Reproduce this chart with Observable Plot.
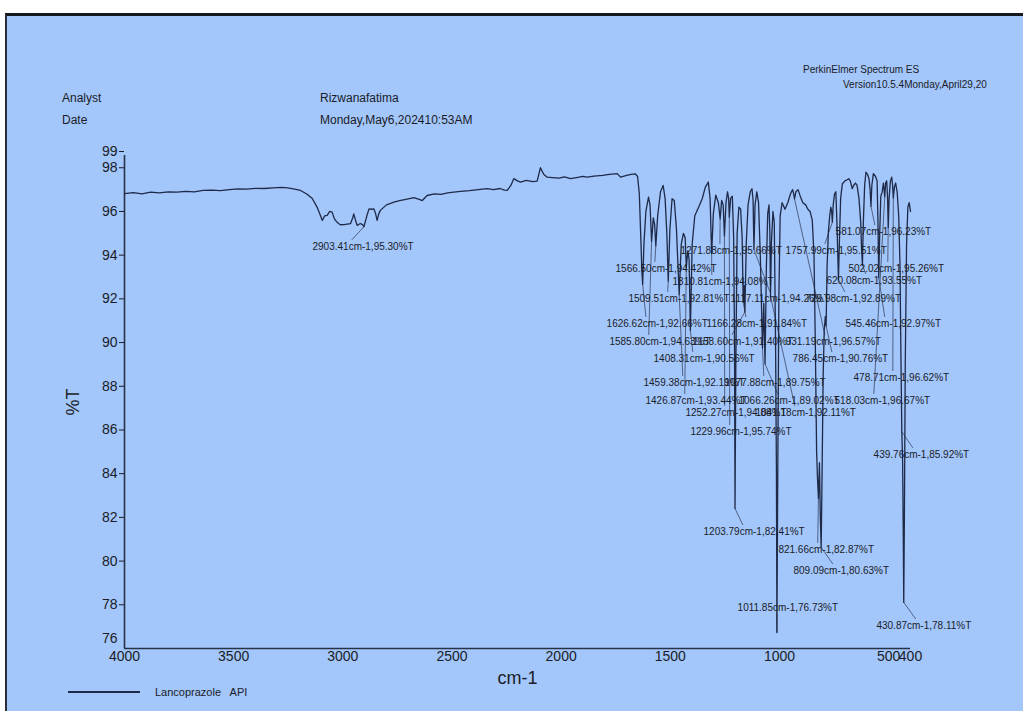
<!DOCTYPE html>
<html><head><meta charset="utf-8">
<script src="https://cdn.jsdelivr.net/npm/d3@7"></script>
<script src="https://cdn.jsdelivr.net/npm/@observablehq/plot@0.6"></script>
<style>
html,body{margin:0;padding:0;background:#fff;width:1023px;height:711px;overflow:hidden;font-family:"Liberation Sans",Arial,sans-serif;color:#1a1d28}
#panel{position:absolute;left:5px;top:13px;width:1030px;height:710px;background:#a3c6fb;border-top:3px solid #15181f;border-left:2px solid #2a2d35;box-sizing:border-box}
#chart{position:absolute;left:0;top:0}
.hdr{position:absolute;font-size:12px;white-space:nowrap;line-height:1}
.hdr.s{font-size:10px}
.leg{position:absolute;left:68px;top:691px;width:72px;border-top:2px solid #1e2a48}
.legt{position:absolute;left:155px;top:686px;font-size:11px;white-space:pre}
[aria-label="x-axis label"] text,[aria-label="y-axis label"] text{font-size:18px}
</style></head><body>
<div id="panel"></div>
<div id="chart"></div>
<div class="hdr" style="left:62px;top:92px">Analyst</div>
<div class="hdr" style="left:62px;top:114px">Date</div>
<div class="hdr" style="left:320px;top:92px">Rizwanafatima</div>
<div class="hdr" style="left:320px;top:114px">Monday,May6,202410:53AM</div>
<div class="hdr s" style="left:803px;top:65px">PerkinElmer Spectrum ES</div>
<div class="hdr s" style="left:843px;top:80px">Version10.5.4Monday,April29,20</div>
<div class="leg"></div>
<div class="legt">Lancoprazole   API</div>
<script>
// spectrum: [wavenumber cm-1, %T]
const spectrumPoints = [
[4000,96.82],[3960,96.86],[3920,96.80],[3880,96.88],[3840,96.85],[3800,96.90],[3760,96.88],[3720,96.92],
[3680,96.90],[3640,96.96],[3600,96.98],[3560,96.95],[3520,97.00],[3480,97.03],[3440,97.02],[3400,97.06],
[3360,97.05],[3320,97.08],[3280,97.10],[3253,97.08],[3220,97.02],[3194,96.96],[3165,96.80],[3140,96.59],
[3118,96.20],[3100,95.75],[3094,95.59],[3083,95.80],[3072,95.82],[3060,96.00],[3049,95.97],[3040,95.70],
[3034,95.59],[3020,95.45],[3011,95.39],[2995,95.40],[2980,95.42],[2965,95.44],[2955,95.70],[2950,95.89],
[2942,95.60],[2934,95.36],[2920,95.45],[2910,95.40],[2903.41,95.30],[2890,95.80],[2880,96.12],[2868,96.10],
[2858,96.12],[2850,95.90],[2843,95.59],[2835,95.90],[2827,96.06],[2800,96.30],[2766,96.43],[2740,96.50],
[2700,96.58],[2675,96.63],[2650,96.55],[2636,96.50],[2614,96.73],[2580,96.80],[2550,96.78],[2520,96.85],
[2492,96.88],[2460,96.92],[2420,96.95],[2380,97.00],[2339,97.04],[2310,97.00],[2280,97.05],[2260,96.98],
[2247,96.96],[2230,97.20],[2217,97.50],[2200,97.40],[2186,97.34],[2160,97.42],[2130,97.36],[2110,97.39],
[2095,98.00],[2080,97.70],[2064,97.57],[2040,97.55],[2010,97.52],[1985,97.58],[1957,97.50],[1930,97.55],
[1900,97.60],[1881,97.57],[1850,97.62],[1810,97.65],[1780,97.70],[1743,97.73],[1728,97.57],[1700,97.65],
[1680,97.70],[1660,97.72],[1650,97.60],[1642,96.80],[1636,95.00],[1630,93.20],[1626.62,92.66],[1621,94.50],
[1612,96.00],[1600,96.66],[1593,96.30],[1585.80,94.63],[1578,95.70],[1572,95.40],[1566.50,94.42],[1558,95.80],
[1545,96.90],[1533,97.19],[1524,96.60],[1516,95.00],[1509.51,92.81],[1502,95.20],[1492,96.58],[1482,96.50],
[1472,95.20],[1459.38,92.19],[1450,94.50],[1440,95.00],[1432,94.80],[1426.87,93.44],[1420,94.20],[1414,93.80],
[1408.31,90.56],[1400,94.50],[1388,95.80],[1370,96.20],[1354,96.58],[1340,97.10],[1326,97.34],[1318,96.60],
[1310.81,94.08],[1303,95.90],[1292,96.75],[1280,96.40],[1271.88,95.66],[1265,96.50],[1258,96.30],[1252.27,94.88],
[1245,96.40],[1238,96.90],[1233,96.60],[1229.96,95.74],[1224,96.60],[1216,96.70],[1210,94.80],[1206,90.00],
[1203.79,82.41],[1200,89.00],[1194,95.00],[1186,96.20],[1178,96.10],[1171,94.80],[1166.28,91.84],[1162,92.60],
[1158.60,91.40],[1152,94.60],[1144,96.30],[1134,96.90],[1126,97.04],[1121,96.50],[1117.11,94.26],[1112,96.30],
[1104,96.90],[1096,96.40],[1088,94.00],[1082,91.50],[1077.88,89.75],[1072,91.80],[1066.26,89.02],[1060,93.50],
[1054,95.90],[1048,96.30],[1044,95.00],[1041.18,92.11],[1037,94.60],[1030,96.00],[1024,95.50],[1018,90.00],
[1014,84.00],[1011.85,76.73],[1008,84.00],[1003,92.00],[997,95.80],[988,96.40],[975,96.10],[962,96.40],
[950,96.80],[940,97.00],[936,96.85],[931.19,96.57],[925,96.90],[915,97.00],[905,96.70],[893,96.40],
[880,96.30],[870,96.10],[860,96.00],[850,95.60],[842,94.00],[836,90.00],[830,85.00],[826,83.80],
[821.66,82.87],[817,84.50],[813,82.00],[809.09,80.63],[805,84.00],[800,88.50],[795,90.60],[790,91.20],
[786.45,90.76],[782,93.50],[776,95.10],[770,95.80],[765,96.20],[761,96.00],[757.99,95.51],[754,96.30],
[748,96.80],[742,96.90],[737,95.50],[733,94.00],[729.98,92.89],[726,94.50],[720,96.60],[712,97.27],
[700,97.40],[690,97.45],[683,97.50],[676,97.40],[667,97.04],[660,97.20],[652,97.30],[645,97.20],
[636,96.60],[628,95.50],[624,94.30],[620.08,93.55],[616,95.50],[610,97.20],[604,97.80],[597,97.70],
[590,97.50],[585,97.00],[581.07,96.23],[577,97.20],[570,97.73],[560,97.60],[553,97.40],[549,95.50],
[545.46,92.97],[541,95.00],[536,96.70],[530,96.88],[524,97.30],[521,97.00],[518.03,96.67],[514,97.30],
[509,97.40],[505,96.60],[502.02,95.26],[498,96.60],[492,97.40],[486,97.57],[482,97.20],[478.71,96.62],
[474,97.10],[468,97.30],[461,96.88],[454,95.80],[448,93.50],[444,89.50],[439.76,85.92],[436,84.50],
[433,81.00],[430.87,78.11],[428,82.00],[424,89.00],[418,94.50],[412,96.20],[406,96.40],[400,96.00]
];

// peak annotations: [peak cm-1, peak %T, label text, label anchor cm-1, label anchor %T]
const peakLabels = [
[2903.41,95.30,"2903.41cm-1,95.30%T",3139,94.40],
[1566.50,94.42,"1566.50cm-1,94.42%T",1751,93.39],
[1271.88,95.66,"1271.88cm-1,95.66%T",1453,94.22],
[757.99,95.51,"1757.99cm-1,95.51%T",972,94.22],
[581.07,96.23,"581.07cm-1,96.23%T",743,95.08],
[1310.81,94.08,"1310.81cm-1,94.08%T",1490,92.80],
[502.02,95.26,"502.02cm-1,95.26%T",684,93.39],
[620.08,93.55,"620.08cm-1,93.55%T",785,92.84],
[1509.51,92.81,"1509.51cm-1,92.81%T",1692,92.02],
[1117.11,94.26,"1117.11cm-1,94.26%T",1224,92.02],
[729.98,92.89,"729.98cm-1,92.89%T",881,92.02],
[1626.62,92.66,"1626.62cm-1,92.66%T",1792,90.87],
[1166.28,91.84,"1166.28cm-1,91.84%T",1334,90.87],
[545.46,92.97,"545.46cm-1,92.97%T",698,90.87],
[1585.80,94.63,"1585.80cm-1,94.63%T",1779,90.05],
[1158.60,91.40,"1158.60cm-1,91.40%T",1398,90.05],
[931.19,96.57,"931.19cm-1,96.57%T",972,90.05],
[1408.31,90.56,"1408.31cm-1,90.56%T",1577,89.27],
[786.45,90.76,"786.45cm-1,90.76%T",940,89.27],
[1459.38,92.19,"1459.38cm-1,92.19%T",1623,88.17],
[1077.88,89.75,"1077.88cm-1,89.75%T",1252,88.17],
[478.71,96.62,"478.71cm-1,96.62%T",661,88.40],
[1426.87,93.44,"1426.87cm-1,93.44%T",1614,87.35],
[1066.26,89.02,"1066.26cm-1,89.02%T",1188,87.35],
[518.03,96.67,"518.03cm-1,96.67%T",748,87.35],
[1252.27,94.88,"1252.27cm-1,94.88%T",1431,86.80],
[1041.18,92.11,"1041.18cm-1,92.11%T",1110,86.80],
[1229.96,95.74,"1229.96cm-1,95.74%T",1408,85.93],
[439.76,85.92,"439.76cm-1,85.92%T",569,84.88],
[1203.79,82.41,"1203.79cm-1,82.41%T",1348,81.35],
[821.66,82.87,"821.66cm-1,82.87%T",1005,80.53],
[809.09,80.63,"809.09cm-1,80.63%T",936,79.57],
[1011.85,76.73,"1011.85cm-1,76.73%T",1192,77.88],
[430.87,78.11,"430.87cm-1,78.11%T",556,77.05]
];

const xTicks = [4000,3500,3000,2500,2000,1500,1000,500,400];
const yTicks = [78,80,82,84,86,88,90,92,94,96,98];
const yTopTick = [98.56];
const yBottomTick = [76];
const xDomain = [4000,400];
const yDomain = [76,98.56];

const spectrum = spectrumPoints.map(([w,t]) => ({w,t}));
const ann = peakLabels.map(([pw,pt,label,lw,lt]) => ({pw,pt,label,lw,lt}));

const ink = "#1e2a48";
const font = '"Liberation Sans",Arial,sans-serif';
const fmt = d3.format(".0f");

const chart = Plot.plot({
  width:1023, height:711,
  marginLeft:124, marginRight:113, marginTop:155, marginBottom:63,
  style:{background:"transparent", fontFamily:font, fontSize:"14px", color:"#1a1d28", overflow:"visible"},
  x:{domain:xDomain},
  y:{domain:yDomain},
  marks:[
    Plot.axisX({ticks:xTicks, tickSize:0, tickPadding:3, tickFormat:d=>String(d), label:"cm-1", labelAnchor:"center", labelArrow:"none", labelOffset:35}),
    Plot.axisY({ticks:yTicks, tickSize:5, tickPadding:2, tickFormat:fmt, label:"%T", labelAnchor:"center", labelArrow:"none", labelOffset:58}),
    Plot.axisY({ticks:yTopTick, tickSize:5, tickPadding:2, tickFormat:fmt, dy:-4, label:null}),
    Plot.axisY({ticks:yBottomTick, tickSize:0, tickPadding:7, tickFormat:fmt, dy:-10, label:null}),
    Plot.ruleX([xDomain[0]], {stroke:"#283247", strokeWidth:1.6}),
    Plot.ruleY([yDomain[0]], {stroke:"#283247", strokeWidth:1.6}),
    Plot.link(ann, {
      x1:"pw", y1:"pt",
      x2:d=>d.lw - 180,
      y2:d=>d.lt + (d.pt > d.lt ? 0.3 : -0.3),
      stroke:"#3b4866", strokeWidth:0.8
    }),
    Plot.line(spectrum, {x:"w", y:"t", stroke:ink, strokeWidth:1.3}),
    Plot.text(ann, {x:"lw", y:"lt", text:"label", textAnchor:"start", fontSize:10, fill:"#1a1d28", fontFamily:font})
  ]
});
document.getElementById("chart").append(chart);
</script>
</body></html>
